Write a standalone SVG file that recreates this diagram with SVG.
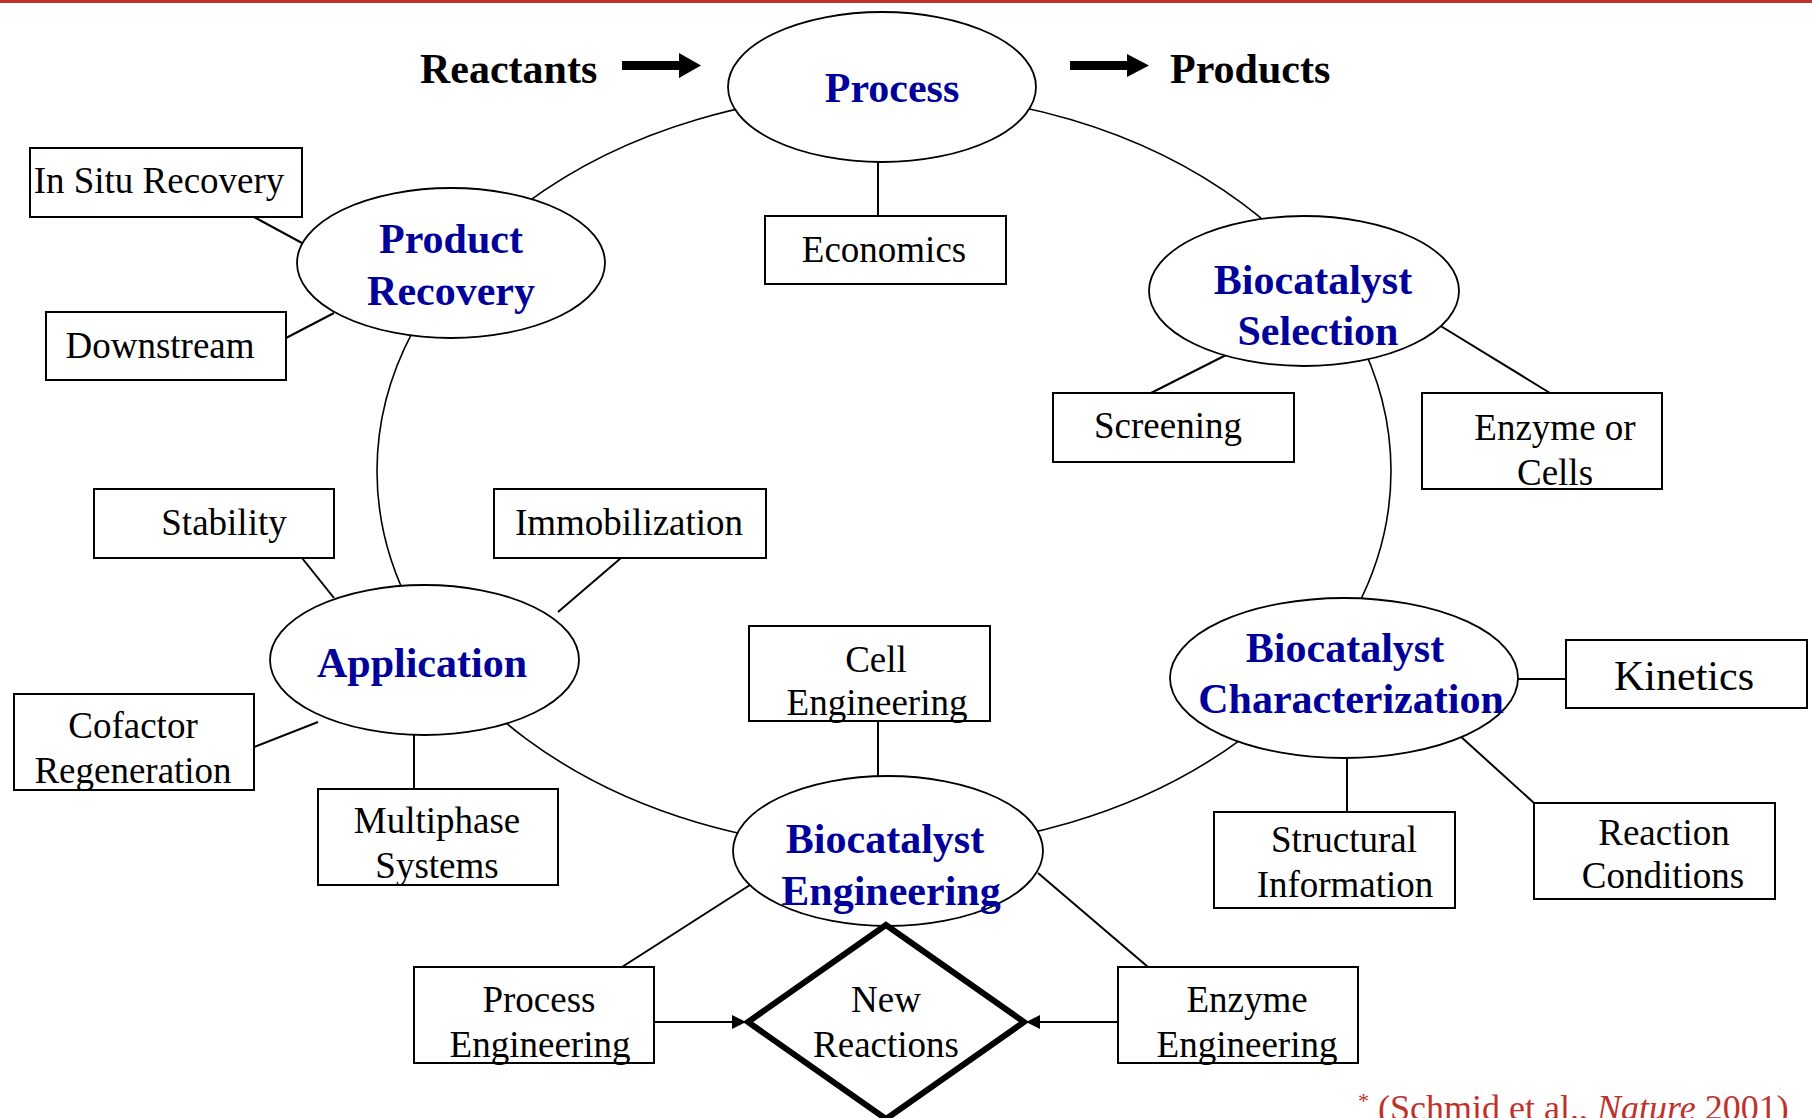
<svg xmlns="http://www.w3.org/2000/svg" width="1812" height="1118" viewBox="0 0 1812 1118">
<defs>
<style>
.oval{fill:#fff;stroke:#000;stroke-width:1.8}
.box{fill:#fff;stroke:#000;stroke-width:2}
.ln{fill:none;stroke:#000;stroke-width:2}
.cyc{fill:none;stroke:#000;stroke-width:1.6}
.ot{font-family:"Liberation Serif","Times New Roman",serif;font-weight:bold;font-size:42px;fill:#00009a;text-anchor:middle}
.bt{font-family:"Liberation Serif","Times New Roman",serif;font-size:37px;fill:#000;text-anchor:middle}
.hd{font-family:"Liberation Serif","Times New Roman",serif;font-weight:bold;font-size:42px;fill:#000}
.cite{font-family:"Liberation Serif","Times New Roman",serif;font-size:36px;fill:#c0312b}
</style>
<marker id="ah" markerUnits="userSpaceOnUse" markerWidth="16" markerHeight="16" refX="14" refY="7" orient="auto">
<path d="M0,0 L14,7 L0,14 z" fill="#000"/>
</marker>
</defs>
<rect x="0" y="0" width="1812" height="1118" fill="#fff"/>
<rect x="0" y="0" width="1812" height="3" fill="#c0312b"/>

<g id="connectors">
<ellipse class="cyc" cx="884" cy="471" rx="507" ry="378"/>
<line class="ln" x1="878" y1="162" x2="878" y2="216"/>
<line class="ln" x1="254" y1="217" x2="302" y2="243"/>
<line class="ln" x1="286" y1="338" x2="334" y2="313"/>
<line class="ln" x1="1151" y1="393" x2="1230" y2="353"/>
<line class="ln" x1="1439" y1="325" x2="1550" y2="393"/>
<line class="ln" x1="1518" y1="679" x2="1566" y2="679"/>
<line class="ln" x1="1347" y1="758" x2="1347" y2="812"/>
<line class="ln" x1="1459" y1="735" x2="1534" y2="803"/>
<line class="ln" x1="302" y1="558" x2="334" y2="598"/>
<line class="ln" x1="621" y1="558" x2="558" y2="612"/>
<line class="ln" x1="254" y1="747" x2="318" y2="722"/>
<line class="ln" x1="414" y1="735" x2="414" y2="789"/>
<line class="ln" x1="878" y1="721" x2="878" y2="776"/>
<line class="ln" x1="750" y1="885" x2="622" y2="967"/>
<line class="ln" x1="1038" y1="873" x2="1148" y2="967"/>
<line class="ln" x1="654" y1="1022" x2="746" y2="1022" marker-end="url(#ah)"/>
<line class="ln" x1="1118" y1="1022" x2="1026" y2="1022" marker-end="url(#ah)"/>
</g>

<g id="flow">
<text class="hd" x="420" y="83">Reactants</text>
<polygon points="622,61 679,61 679,53 701,65.5 679,78 679,70 622,70" fill="#000"/>
<polygon points="1070,61 1127,61 1127,54 1149,65.5 1127,77 1127,70 1070,70" fill="#000"/>
<text class="hd" x="1170" y="83">Products</text>
</g>

<g id="process">
<ellipse class="oval" cx="882" cy="87" rx="154" ry="75"/>
<text class="ot" x="892" y="102">Process</text>
</g>
<g id="economics">
<rect class="box" x="765" y="216" width="241" height="68"/>
<text class="bt" x="884" y="262">Economics</text>
</g>

<g id="product-recovery">
<ellipse class="oval" cx="451" cy="263" rx="154" ry="75"/>
<text class="ot" x="451" y="253">Product</text>
<text class="ot" x="451" y="305">Recovery</text>
</g>
<g id="in-situ-recovery">
<rect class="box" x="30" y="148" width="272" height="69"/>
<text class="bt" x="159" y="193">In Situ Recovery</text>
</g>
<g id="downstream">
<rect class="box" x="46" y="312" width="240" height="68"/>
<text class="bt" x="160" y="358">Downstream</text>
</g>

<g id="biocatalyst-selection">
<ellipse class="oval" cx="1304" cy="291" rx="155" ry="75"/>
<text class="ot" x="1313" y="294">Biocatalyst</text>
<text class="ot" x="1318" y="345">Selection</text>
</g>
<g id="screening">
<rect class="box" x="1053" y="393" width="241" height="69"/>
<text class="bt" x="1168" y="438">Screening</text>
</g>
<g id="enzyme-or-cells">
<rect class="box" x="1422" y="393" width="240" height="96"/>
<text class="bt" x="1555" y="440">Enzyme or</text>
<text class="bt" x="1555" y="485">Cells</text>
</g>

<g id="biocatalyst-characterization">
<ellipse class="oval" cx="1344" cy="678" rx="174" ry="80"/>
<text class="ot" x="1345" y="662">Biocatalyst</text>
<text class="ot" x="1351" y="713">Characterization</text>
</g>
<g id="kinetics">
<rect class="box" x="1566" y="640" width="241" height="68"/>
<text class="bt" x="1684" y="690" style="font-size:42px">Kinetics</text>
</g>
<g id="structural-information">
<rect class="box" x="1214" y="812" width="241" height="96"/>
<text class="bt" x="1344" y="852">Structural</text>
<text class="bt" x="1345" y="897">Information</text>
</g>
<g id="reaction-conditions">
<rect class="box" x="1534" y="803" width="241" height="96"/>
<text class="bt" x="1664" y="845">Reaction</text>
<text class="bt" x="1663" y="888">Conditions</text>
</g>

<g id="application">
<ellipse class="oval" cx="424.5" cy="660" rx="154.5" ry="75"/>
<text class="ot" x="422" y="677">Application</text>
</g>
<g id="stability">
<rect class="box" x="94" y="489" width="240" height="69"/>
<text class="bt" x="224" y="535">Stability</text>
</g>
<g id="immobilization">
<rect class="box" x="494" y="489" width="272" height="69"/>
<text class="bt" x="629" y="535">Immobilization</text>
</g>
<g id="cofactor-regeneration">
<rect class="box" x="14" y="694" width="240" height="96"/>
<text class="bt" x="133" y="738">Cofactor</text>
<text class="bt" x="133" y="783">Regeneration</text>
</g>
<g id="multiphase-systems">
<rect class="box" x="318" y="789" width="240" height="96"/>
<text class="bt" x="437" y="833">Multiphase</text>
<text class="bt" x="437" y="878">Systems</text>
</g>

<g id="cell-engineering">
<rect class="box" x="749" y="626" width="241" height="95"/>
<text class="bt" x="876" y="672">Cell</text>
<text class="bt" x="877" y="715">Engineering</text>
</g>
<g id="biocatalyst-engineering">
<ellipse class="oval" cx="888" cy="851" rx="155" ry="75"/>
<text class="ot" x="885" y="853">Biocatalyst</text>
<text class="ot" x="891" y="905">Engineering</text>
</g>
<g id="process-engineering">
<rect class="box" x="414" y="967" width="240" height="96"/>
<text class="bt" x="539" y="1012">Process</text>
<text class="bt" x="540" y="1057">Engineering</text>
</g>
<g id="enzyme-engineering">
<rect class="box" x="1118" y="967" width="240" height="96"/>
<text class="bt" x="1247" y="1012">Enzyme</text>
<text class="bt" x="1247" y="1057">Engineering</text>
</g>
<g id="new-reactions">
<polygon points="886,925 1024,1022 886,1119 748,1022" fill="none" stroke="#000" stroke-width="6" stroke-linejoin="miter"/>
<text class="bt" x="886" y="1012">New</text>
<text class="bt" x="886" y="1057">Reactions</text>
</g>

<g id="citation">
<text class="cite" x="1358" y="1120"><tspan font-size="22px" dy="-12">*</tspan><tspan dy="12"> (Schmid et al., </tspan><tspan font-style="italic">Nature</tspan><tspan> 2001)</tspan></text>
</g>
</svg>
